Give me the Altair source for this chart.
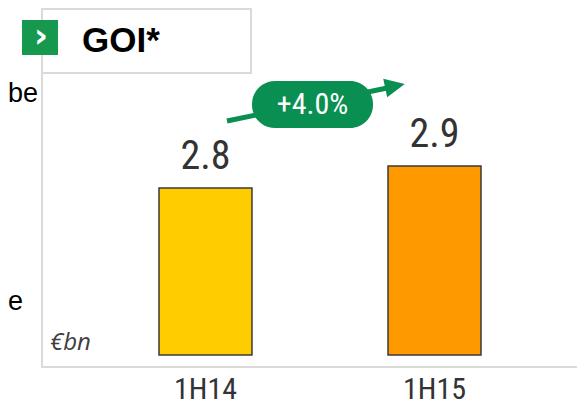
import altair as alt
import pandas as pd

categories = ["1H14", "1H15"]
values = [2.8, 2.9]
bar_colors = ["#FFCC00", "#FF9900"]
value_labels = ["2.8", "2.9"]
growth_label = "+4.0%"
title_text = "GOI*"
unit_text = "€bn"

df = pd.DataFrame({"cat": categories, "val": values, "color": bar_colors, "lab": value_labels})
one = pd.DataFrame({"a": [0]})

NARROW = "Liberation Sans Narrow, Roboto Condensed, Roboto, sans-serif"
GREEN = "#0A8F52"
GRAY = "#DADADA"

xs = alt.Scale(domain=categories, range=[151, 473], paddingInner=0.594, paddingOuter=0)
ys = alt.Scale(domain=[2.041, 2.9], range=[347, 158], zero=False, nice=False)

base = alt.Chart(df)

bars = base.mark_bar(stroke="#3a3a3a", strokeWidth=1.5).encode(
    x=alt.X("cat:N", scale=xs, axis=None, sort=categories),
    y=alt.Y("val:Q", scale=ys, axis=None),
    y2=alt.datum(2.041),
    color=alt.Color("color:N", scale=None, legend=None),
)

val_text = base.mark_text(font=NARROW, fontSize=40, color="#333333", baseline="alphabetic", dy=-19).encode(
    x=alt.X("cat:N", scale=xs, sort=categories),
    y=alt.Y("val:Q", scale=ys),
    text="lab:N",
)

cat_text = base.mark_text(font=NARROW, fontSize=30, color="#333333", baseline="alphabetic").encode(
    x=alt.X("cat:N", scale=xs, sort=categories),
    y=alt.value(391),
    text="cat:N",
)

c1 = alt.Chart(one)
# frame lines
left_line = c1.mark_rule(color=GRAY, strokeWidth=2).encode(x=alt.value(34), y=alt.value(0), y2=alt.value(360))
bottom_line = c1.mark_rule(color=GRAY, strokeWidth=2).encode(x=alt.value(34), x2=alt.value(570), y=alt.value(359))
title_box = c1.mark_rect(fill="white", stroke=GRAY, strokeWidth=2).encode(
    x=alt.value(34), x2=alt.value(243), y=alt.value(1), y2=alt.value(65))
icon = c1.mark_rect(fill="#17984F").encode(x=alt.value(14), x2=alt.value(50), y=alt.value(12), y2=alt.value(47))
chevron = c1.mark_text(text="›", font="DejaVu Sans", fontWeight="bold", fontSize=34, color="white",
                       align="center", baseline="middle").encode(x=alt.value(33), y=alt.value(29))
title = c1.mark_text(text=title_text, font="Liberation Sans", fontWeight="bold", fontSize=35, color="black",
                     align="left", baseline="alphabetic").encode(x=alt.value(74), y=alt.value(44))
unit = c1.mark_text(text=unit_text, font="Open Sans", fontStyle="italic", fontSize=24, color="#404040",
                    align="left", baseline="alphabetic").encode(x=alt.value(42), y=alt.value(342))
frag1 = c1.mark_text(text="be", font="Liberation Sans", fontSize=27, color="black",
                     align="left", baseline="alphabetic").encode(x=alt.value(0), y=alt.value(94))
frag2 = c1.mark_text(text="e", font="Liberation Sans", fontSize=27, color="black",
                     align="left", baseline="alphabetic").encode(x=alt.value(0), y=alt.value(302))

# growth arrow
arrow_line = c1.mark_rule(color=GREEN, strokeWidth=5).encode(
    x=alt.value(219), y=alt.value(113), x2=alt.value(384), y2=alt.value(79))
arrow_head = c1.mark_point(shape="M-1,-0.95L1,0L-1,0.95Z", filled=True, color=GREEN, opacity=1,
                           size=400, angle=348).encode(x=alt.value(387), y=alt.value(78))
pill = c1.mark_rect(fill=GREEN, cornerRadius=23).encode(
    x=alt.value(244), x2=alt.value(365), y=alt.value(73), y2=alt.value(120))
pill_text = c1.mark_text(text=growth_label, font=NARROW, fontSize=30, color="white",
                         align="center", baseline="middle").encode(x=alt.value(304.5), y=alt.value(97))

chart = alt.layer(
    left_line, bottom_line, title_box, icon, chevron, title, unit, frag1, frag2,
    bars, val_text, cat_text, arrow_line, arrow_head, pill, pill_text,
).properties(
    width=565, height=360,
    autosize=alt.AutoSizeParams(type="none"),
    padding={"left": 0, "top": 0, "right": 4, "bottom": 38},
).configure_view(stroke=None)

chart.save("out.html", embed_options={"renderer": "svg", "actions": False})
